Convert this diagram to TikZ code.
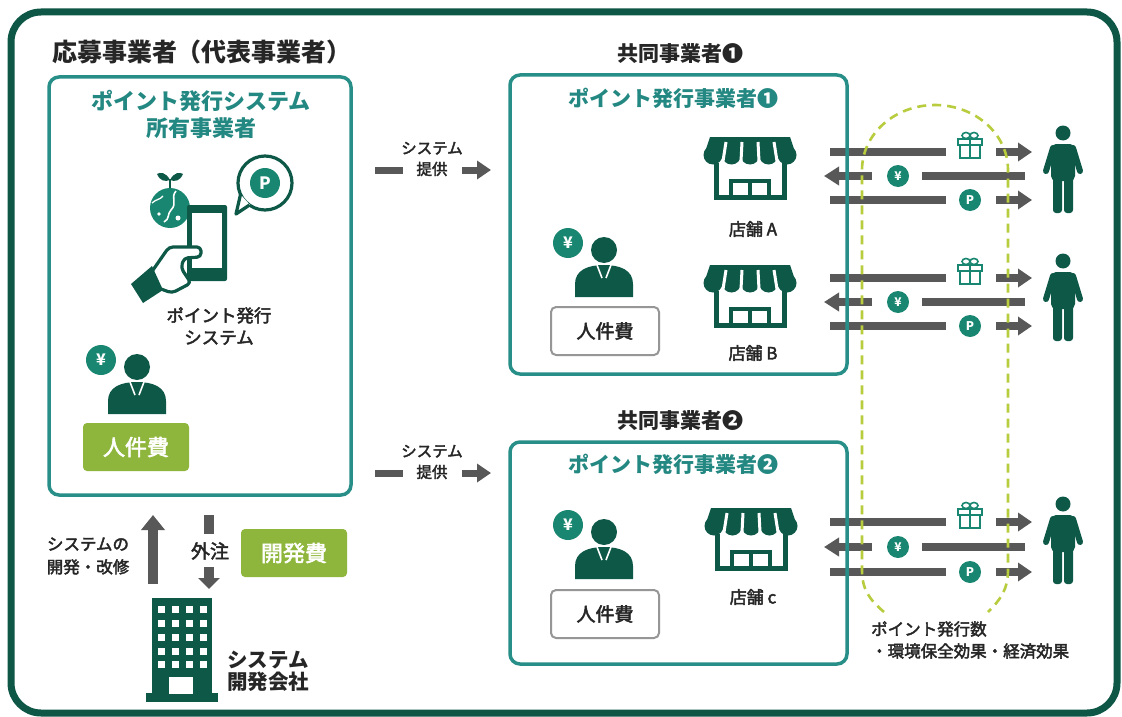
\documentclass[tikz,border=0pt]{standalone}
\usepackage{fontspec}
\setmainfont{Noto Sans CJK JP}
\newfontfamily\jpm[FakeBold=2.5]{Noto Sans CJK JP}
\usetikzlibrary{arrows.meta}

\definecolor{framegreen}{RGB}{14,86,70}
\definecolor{dk}{RGB}{14,88,72}
\definecolor{tealb}{RGB}{40,142,136}
\definecolor{tealt}{RGB}{36,136,130}
\definecolor{coinc}{RGB}{24,134,112}
\definecolor{olive}{RGB}{143,182,60}
\definecolor{dashc}{RGB}{184,204,62}
\definecolor{arr}{RGB}{88,88,88}
\definecolor{txt}{RGB}{38,38,38}
\definecolor{boxgray}{RGB}{150,150,150}

\newcommand\fs[1]{\fontsize{#1}{#1}\selectfont}

\tikzset{
  lbl/.style={text=txt, inner sep=0, align=center},
  tealhead/.style={text=tealt, inner sep=0, align=center, font=\bfseries\fs{21}},
  coin/.style={circle, fill=coinc, text=white, inner sep=0, minimum size=22pt, font=\bfseries\fs{12}},
  bigcoin/.style={circle, fill=coinc, text=white, inner sep=0, minimum size=30pt, font=\bfseries\fs{16}},
  bar/.style={draw=arr, line width=7.5pt},
  tipR/.style={-{Triangle[length=14pt,width=18pt]}},
  greenbox/.style={fill=olive, rounded corners=4pt, text=white, inner sep=0, font=\jpm\fs{22}},
  graybox/.style={draw=boxgray, fill=white, line width=2pt, rounded corners=5pt, text=txt, inner sep=0, minimum width=108pt, minimum height=48pt, font=\jpm\fs{19}},
  tealframe/.style={draw=tealb, line width=3.5pt, rounded corners=10pt},
}

% shop icon, origin at awning top centre
\newcommand\shopicon[2]{%
\begin{scope}[shift={#2}]
  \fill[dk] (-40,0) -- (40,0) -- (46,18) -- (-46,18) -- cycle;
  \foreach \bx in {-37,-18.5,0,18.5,37} \fill[dk] (\bx,18) circle (9.5);
  \foreach \ta/\tb in {-24/-27.75,-8/-9.25,8/9.25,24/27.75}
    \draw[white, line width=3pt] (\ta,5) -- (\tb,29);
  \draw[dk, line width=5pt] (-34,26) -- (-34,60.5) -- (34,60.5) -- (34,26);
  \draw[dk, line width=4pt] (-19,62) -- (-19,44) -- (19,44) -- (19,62);
  \draw[dk, line width=4pt] (0,44) -- (0,62);
  \coordinate (#1) at (0,35);
\end{scope}}

% staff member with a yen coin, origin at head centre
\newcommand\staff[2]{%
\begin{scope}[shift={#2}]
  \fill[dk] (0,0) circle (13);
  \fill[dk] (-29,47) -- (-29,34) .. controls (-29,20) and (-16,15) .. (0,15)
     .. controls (16,15) and (29,20) .. (29,34) -- (29,47) -- cycle;
  \draw[white, line width=1.6pt] (-7,15) -- (-2,28);
  \draw[white, line width=1.6pt] (7,15) -- (2,28);
  \node[bigcoin] (#1) at (-36,-7) {¥};
\end{scope}}

% customer figure, origin at head centre
\newcommand\customer[2]{%
\begin{scope}[shift={#2}]
  \fill[dk] (0,0) circle (7.5);
  \fill[dk, rounded corners=5pt] (-12,11) rectangle (12,48);
  \draw[dk, line width=6pt, line cap=round] (-10,15) -- (-17,38);
  \draw[dk, line width=6pt, line cap=round] (10,15) -- (17,38);
  \fill[dk, rounded corners=3pt] (-10,44) rectangle (-1,80);
  \fill[dk, rounded corners=3pt] (1,44) rectangle (10,80);
  \coordinate (#1) at (0,35);
\end{scope}}

% gift box outline
\newcommand\gift[2]{%
\begin{scope}[shift={#2}]
  \draw[coinc, line width=1.6pt] (-12,-7) rectangle (12,-1);
  \draw[coinc, line width=1.6pt] (-10,-1) rectangle (10,12);
  \draw[coinc, line width=2.6pt] (0,-7) -- (0,12);
  \draw[coinc, line width=1.6pt] (-4,-10.5) ellipse (4 and 3);
  \draw[coinc, line width=1.6pt] (4,-10.5) ellipse (4 and 3);
  \coordinate (#1) at (0,0);
\end{scope}}

% three flows between a shop and its customer
\newcommand\flows[4]{%
  \draw[bar] (830,#2) -- (946,#2);
  \gift{#1g}{(970,#2-6)}
  \draw[bar, tipR] (996,#2) -- (1032,#2);
  \draw[bar, -{Triangle[length=15pt,width=18pt]}] (872,#3) -- (824,#3);
  \node[coin] (#1y) at (898,#3) {¥};
  \draw[bar] (922,#3) -- (1025,#3);
  \draw[bar] (830,#4) -- (946,#4);
  \node[coin] (#1p) at (970,#4) {P};
  \draw[bar, tipR] (996,#4) -- (1032,#4);
}

\begin{document}
\begin{tikzpicture}[x=1pt,y=-1pt]
\useasboundingbox (0,0) rectangle (1122,717);
\fill[white] (0,0) rectangle (1122,717);

% outer frame
\draw[framegreen, line width=7pt, rounded corners=30pt] (11,12) rectangle (1117,713);

% box fills
\fill[white, rounded corners=10pt] (49,77) rectangle (351,495);
\fill[white, rounded corners=10pt] (510,75) rectangle (847,374);
\fill[white, rounded corners=10pt] (510,442) rectangle (847,664);

% headings
\node[lbl, font=\bfseries\fs{25}] (head0) at (202,52) {応募事業者（代表事業者）};
\node[lbl, font=\bfseries\fs{21}] (head1) at (680,54) {共同事業者❶};
\node[lbl, font=\bfseries\fs{21}] (head2) at (680,421) {共同事業者❷};

% ---------- applicant box ----------
\node[tealhead, font=\bfseries\fontsize{22}{27}\selectfont] (owner) at (201,114) {ポイント発行システム\\所有事業者};

% globe with sprout
\fill[coinc] (170,208) circle (20);
\draw[white, line width=1.6pt] (176,191) .. controls (170,198) and (178,203) .. (171,210) .. controls (167,214) and (170,219) .. (164,222);
\fill[white] (178,218) circle (2.5);
\fill[white] (159,214) circle (1.8);
\draw[white, line width=1.3pt] (152,203) .. controls (156,199) and (160,200) .. (163,196);
\draw[dk, line width=2.5pt] (170,188) -- (170,179);
\fill[dk] (170,180) .. controls (166,172) and (160,172) .. (157,174) .. controls (160,181) and (165,182) .. (170,180);
\fill[dk] (170,180) .. controls (174,172) and (180,172) .. (183,174) .. controls (180,181) and (175,182) .. (170,180);

% speech bubble with point mark
\draw[dk, line width=3.2pt, fill=white] (265,183) circle (27);
\fill[white] (241,195) -- (236,214) -- (250,205) -- cycle;
\draw[dk, line width=3.2pt, line join=round] (240.5,194.5) -- (236,214) -- (249.5,205);
\node[circle, fill=coinc, text=white, inner sep=0, minimum size=30pt, font=\bfseries\fs{17}] (bubbleP) at (265,183) {P};

% smartphone in hand
\fill[dk, rounded corners=2pt] (187,205) rectangle (227,281);
\fill[white] (192,213) rectangle (222,268);
\filldraw[fill=white, draw=dk, line width=3.2pt, rounded corners=4pt, line join=round]
  (153,270) -- (169,247) -- (201,247) -- (201,257) -- (184,258) -- (181,268) -- (191,283) -- (172,293) -- (161,289);
\fill[dk] (131,284) -- (152,266) -- (163,290) -- (143,303) -- cycle;

\node[lbl, font=\jpm\fontsize{17.5}{22}\selectfont] (sysname) at (219,326) {ポイント発行\\システム};

\staff{c0}{(137,367)}
\node[greenbox, minimum width=106pt, minimum height=48pt] (cost0) at (136,447) {人件費};

% ---------- development company ----------
\draw[arr, line width=10pt, -{Triangle[length=15pt,width=23pt]}] (153,584) -- (153,515);
\draw[arr, line width=10pt] (209,515) -- (209,534);
\draw[arr, line width=10pt, -{Triangle[length=11pt,width=21pt]}] (209,567) -- (209,589);
\node[lbl, font=\jpm\fontsize{16.5}{23}\selectfont] (devtext) at (88,556) {システムの\\開発・改修};
\node[lbl, font=\jpm\fs{19}] (outsrc) at (210,551) {外注};
\node[greenbox, minimum width=106pt, minimum height=48pt] (devcost) at (294,553) {開発費};

\fill[dk] (152,598) rectangle (212,694);
\fill[dk] (146,693) rectangle (218,702);
\foreach \wx in {158,172,186,200}
  \foreach \wy in {606,620,634,648,661}
    \fill[white] (\wx,\wy) rectangle ++(7,7);
\fill[white] (169,677) rectangle (193,694);
\node[lbl, font=\bfseries\fontsize{20.5}{22}\selectfont] (devco) at (268,671) {システム\\開発会社};

% ---------- system supply arrows ----------
\draw[arr, line width=7pt] (375,170) -- (403,170);
\draw[arr, line width=7pt, -{Triangle[length=14pt,width=18pt]}] (462,170) -- (491,170);
\node[lbl, font=\jpm\fontsize{15.5}{21}\selectfont] (supply1) at (432,159) {システム\\提供};
\draw[arr, line width=7pt] (375,473) -- (403,473);
\draw[arr, line width=7pt, -{Triangle[length=14pt,width=18pt]}] (462,473) -- (491,473);
\node[lbl, font=\jpm\fontsize{15.5}{21}\selectfont] (supply2) at (432,462) {システム\\提供};

% ---------- partner 1 ----------
\node[tealhead] (issuer1) at (673,98) {ポイント発行事業者❶};
\shopicon{shopA}{(750,137)}
\node[lbl, font=\jpm\fs{17}] (labA) at (753,229) {店舗 A};
\shopicon{shopB}{(750,265)}
\node[lbl, font=\jpm\fs{17}] (labB) at (753,353) {店舗 B};
\staff{c1}{(604,250)}
\node[graybox] (cost1) at (605,331) {人件費};

% ---------- partner 2 ----------
\node[tealhead] (issuer2) at (673,464) {ポイント発行事業者❷};
\shopicon{shopC}{(751,508)}
\node[lbl, font=\jpm\fs{17}] (labC) at (753,597) {店舗 c};
\staff{c2}{(604,532)}
\node[graybox] (cost2) at (605,614) {人件費};

% ---------- flows to customers ----------
\flows{fa}{152}{176}{200}
\flows{fb}{278}{302}{326}
\flows{fc}{522}{547}{572}
\customer{custA}{(1063,133)}
\customer{custB}{(1063,261)}
\customer{custC}{(1063,504)}

% box borders
\draw[tealframe] (49,77) rectangle (351,495);
\draw[tealframe] (510,75) rectangle (847,374);
\draw[tealframe] (510,442) rectangle (847,664);

% issued-points boundary
\draw[dashc, line width=2.6pt, dash pattern=on 9pt off 6pt]
  (884,612) .. controls (870,600) and (862,590) .. (862,570) -- (862,170)
  arc[start angle=180, end angle=360, x radius=73, y radius=65]
  -- (1008,570) .. controls (1008,590) and (1000,600) .. (988,612);
\node[lbl, anchor=west, align=left, font=\jpm\fontsize{16.5}{22}\selectfont] (effect) at (871,640) {ポイント発行数\\・環境保全効果・経済効果};

\end{tikzpicture}
\end{document}
